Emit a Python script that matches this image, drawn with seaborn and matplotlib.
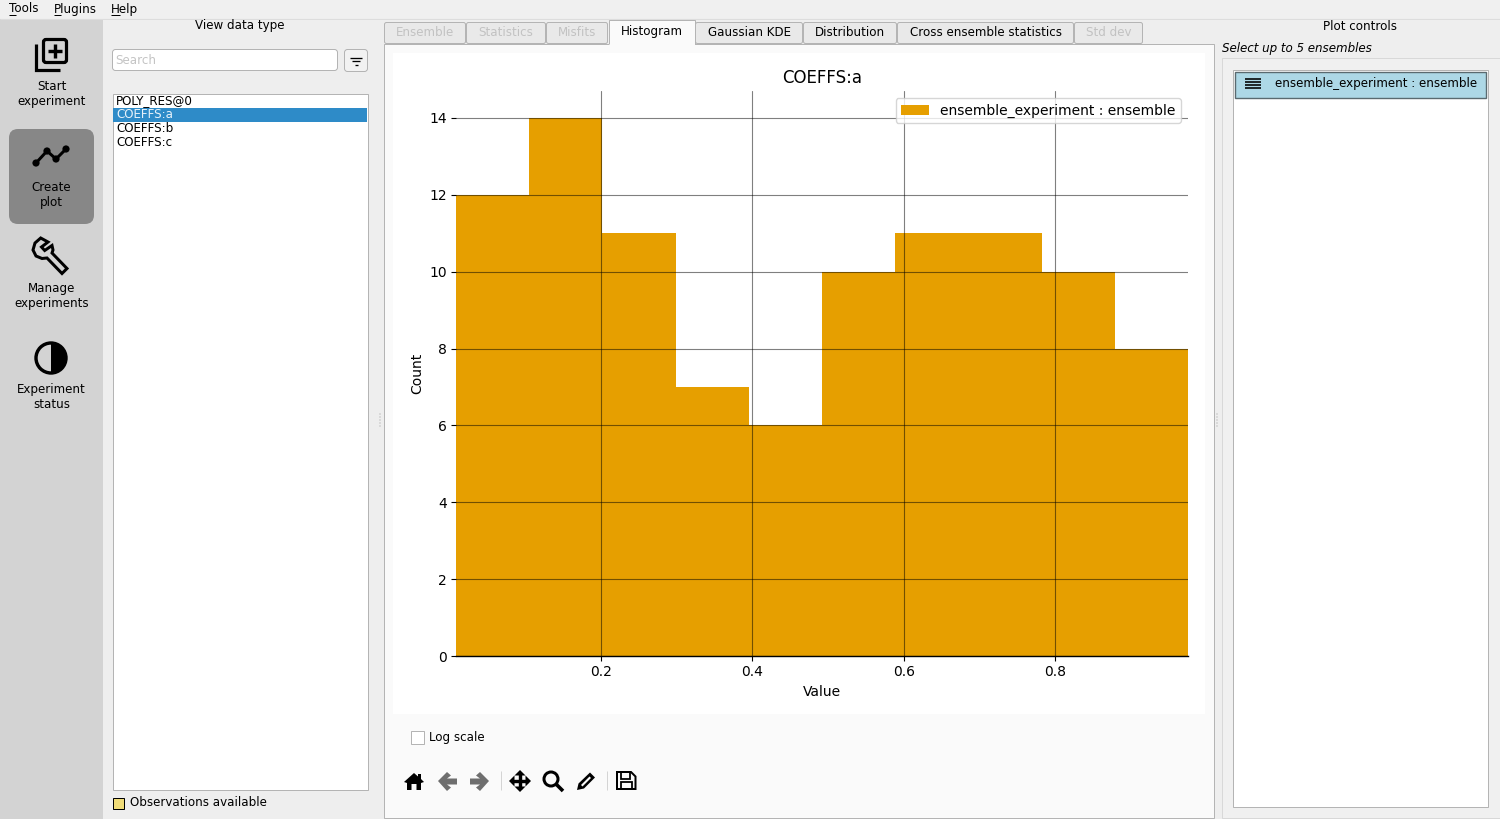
import matplotlib
matplotlib.use('Agg')
import matplotlib.pyplot as plt
import seaborn as sns
from matplotlib.patches import Rectangle, FancyBboxPatch, Circle, Wedge, Polygon

# histogram
bin_edges = [0.0084, 0.1051, 0.2019, 0.2986, 0.3953, 0.4921, 0.5888, 0.6855, 0.7822, 0.8790, 0.9757]
bin_centers = [0.0568, 0.1535, 0.2503, 0.3470, 0.4437, 0.5405, 0.6372, 0.7339, 0.8306, 0.9274]
counts = [12, 14, 11, 7, 6, 10, 11, 11, 10, 8]
x_ticks = [0.2, 0.4, 0.6, 0.8]
y_ticks = [0, 2, 4, 6, 8, 10, 12, 14]
ensemble_label = 'ensemble_experiment : ensemble'
bar_color = '#e69f00'

parameters = ['POLY_RES@0', 'COEFFS:a', 'COEFFS:b', 'COEFFS:c']
tabs = ['Ensemble', 'Statistics', 'Misfits', 'Histogram', 'Gaussian KDE', 'Distribution',
        'Cross ensemble statistics', 'Std dev']
tab_edges = [384, 466, 546, 608, 695, 803, 897, 1074, 1143]
disabled_tabs = ['Ensemble', 'Statistics', 'Misfits', 'Std dev']
menus = ['Tools', 'Plugins', 'Help']
menu_x = [9, 54, 111]
menu_underline = [(9, 16), (54, 61), (111, 120)]
side_labels = ['Start\nexperiment', 'Create\nplot', 'Manage\nexperiments', 'Experiment\nstatus']
side_label_y = [94, 195, 296, 397]

W, H = 1500, 819
UI_SIZE = 8.6
LIGHT = '#eeeeee'
BORDER = '#b4b4b4'
SIDE = '#d3d3d3'
GREY_ICON = '#6e6e6e'

sns.set_style('white', {'text.color': 'black', 'axes.labelcolor': 'black',
                        'xtick.color': 'black', 'ytick.color': 'black',
                        'axes.edgecolor': 'black', 'font.family': ['DejaVu Sans']})
plt.rcParams['font.family'] = ['DejaVu Sans']

fig = plt.figure(figsize=(W / 100, H / 100), dpi=100, facecolor=LIGHT)


def px(v):
    return v * 0.72


def rect(ui, x0, y0, x1, y1, fc, ec='none', lw=1.0, z=1):
    ui.add_patch(Rectangle((x0, y0), x1 - x0, y1 - y0, fc=fc, ec=ec, lw=px(lw), zorder=z))


def rrect(ui, x0, y0, x1, y1, r, fc, ec='none', lw=1.0, z=1):
    ui.add_patch(FancyBboxPatch((x0 + r, y0 + r), x1 - x0 - 2 * r, y1 - y0 - 2 * r,
                                boxstyle='round,pad=%f,rounding_size=%f' % (r, r),
                                fc=fc, ec=ec, lw=px(lw), zorder=z))


def line(ui, xs, ys, w, c='black', z=3, cap='butt'):
    ui.plot(xs, ys, color=c, lw=px(w), solid_capstyle=cap, solid_joinstyle='miter', zorder=z)


def poly(ui, pts, c='black', z=3, ec='none', lw=1.0):
    ui.add_patch(Polygon(pts, closed=True, fc=c, ec=ec, lw=px(lw), zorder=z))


def label(ui, x, y, s, ha='left', c='black', size=UI_SIZE, style='normal'):
    ui.text(x, y, s, ha=ha, va='center', color=c, fontsize=size, style=style, zorder=5,
            linespacing=1.14)


# window chrome drawn in pixel coordinates
ui = fig.add_axes([0, 0, 1, 1], zorder=0)
ui.set_xlim(0, W)
ui.set_ylim(H, 0)
ui.axis('off')

rect(ui, 0, 0, W, 18, '#f0f0f0')
line(ui, [0, W], [18.5, 18.5], 1, '#dddddd')
rect(ui, 0, 19, 103, H, SIDE)
for name, x, (u0, u1) in zip(menus, menu_x, menu_underline):
    label(ui, x, 9, name)
    line(ui, [u0, u1], [15, 15], 1)

# sidebar
rrect(ui, 9, 129, 94, 224, 9, '#878787')
for s, y in zip(side_labels, side_label_y):
    label(ui, 51.5, y, s, ha='center')

# start experiment icon
rrect(ui, 43.5, 39.5, 66.5, 62.5, 2.5, 'none', 'black', 3.2, z=3)
line(ui, [48, 62], [51, 51], 3.4)
line(ui, [55, 55], [44, 58], 3.4)
line(ui, [35.5, 35.5, 60], [44, 69.5, 69.5], 3.2)

# create plot icon
pts_x, pts_y = [36, 47, 56, 66], [163, 151, 159, 149]
line(ui, pts_x, pts_y, 3)
for a, b in zip(pts_x, pts_y):
    ui.add_patch(Circle((a, b), 3.6, fc='black', ec='none', zorder=3))

# wrench icon
poly(ui, [(40.7, 238), (48, 242), (41.5, 247), (44.7, 250.5), (52, 245.5), (53, 250), (52, 253),
          (67, 268.5), (62, 273.5), (47, 258), (42, 258.5), (36, 256), (33, 250), (35, 243)],
     SIDE, ec='black', lw=3)

# status icon
ui.add_patch(Circle((51, 358), 15, fc=SIDE, ec='black', lw=px(3.4), zorder=3))
ui.add_patch(Wedge((51, 358), 15, -90, 90, fc='black', ec='none', zorder=4))

# data type panel
label(ui, 240, 26, 'View data type', ha='center')
rrect(ui, 112.5, 49.5, 337.5, 70.5, 3, 'white', BORDER)
label(ui, 115, 60, 'Search', c='#c4c4c4')
rrect(ui, 344.5, 49.5, 367.5, 71.5, 3, '#f2f2f2', BORDER)
line(ui, [350, 362], [57.5, 57.5], 1.3)
line(ui, [352, 360], [61, 61], 1.3)
line(ui, [354.5, 357.5], [64.5, 64.5], 1.3)
rect(ui, 112.5, 93.5, 367.5, 789.5, 'white', BORDER)
rect(ui, 113, 108, 367, 122, '#2e8bc8', z=2)
for i, name in enumerate(parameters):
    label(ui, 116, 101 + 14 * i, name, c='#e8f2fa' if i == 1 else 'black')
rect(ui, 112.5, 797.5, 123.5, 808.5, '#f0dc78', 'black')
label(ui, 130, 803, 'Observations available')

# splitter dots
for sx in [380, 1217]:
    for sy in range(414, 429, 3):
        ui.add_patch(Circle((sx, sy), 0.7, fc='#b8b8b8', ec='none', zorder=2))

# tabs and plot panel
rect(ui, 383.5, 43.5, 1213.5, 817.5, '#fafafa', BORDER)
rect(ui, 393, 53, 1205, 714, 'white', z=2)
for name, x0, x1 in zip(tabs, tab_edges[:-1], tab_edges[1:]):
    if name == 'Histogram':
        rect(ui, x0 + 0.5, 19.5, x1 - 0.5, 44.5, '#fafafa', z=2)
        line(ui, [x0 + 0.5, x0 + 0.5, x1 - 0.5, x1 - 0.5], [44, 19.5, 19.5, 44], 1, BORDER, z=2)
        label(ui, (x0 + x1) / 2, 32, name, ha='center')
    else:
        rrect(ui, x0 + 0.5, 22.5, x1 - 0.5, 43.5, 2, '#e9e9e9', BORDER, z=1)
        c = '#c2c2c2' if name in disabled_tabs else 'black'
        label(ui, (x0 + x1) / 2, 33, name, ha='center', c=c)

# log scale and toolbar
rect(ui, 410.5, 730.5, 423.5, 743.5, 'white', BORDER, z=2)
label(ui, 429, 738, 'Log scale')
poly(ui, [(404, 782), (414, 773), (418, 776.5), (418, 774), (421, 774), (421, 779), (424, 782),
          (421, 783), (421, 790), (416.5, 790), (416.5, 784), (411.5, 784), (411.5, 790),
          (407, 790), (407, 783)])
poly(ui, [(438, 781), (447, 772), (451, 775.5), (447, 778.5), (457, 778.5), (457, 784.5),
          (447, 784.5), (451, 787.5), (447, 791)], GREY_ICON)
poly(ui, [(489, 781), (480, 772), (476, 775.5), (480, 778.5), (470, 778.5), (470, 784.5),
          (480, 784.5), (476, 787.5), (480, 791)], GREY_ICON)
line(ui, [500.5, 500.5], [771, 790], 1, '#d4d4d4')
line(ui, [606.5, 606.5], [771, 790], 1, '#d4d4d4')
line(ui, [512, 528], [781, 781], 3.4)
line(ui, [520, 520], [773, 789], 3.4)
poly(ui, [(509, 781), (514.5, 775.5), (514.5, 786.5)])
poly(ui, [(531, 781), (525.5, 775.5), (525.5, 786.5)])
poly(ui, [(520, 770), (514.5, 775.5), (525.5, 775.5)])
poly(ui, [(520, 792), (514.5, 786.5), (525.5, 786.5)])
ui.add_patch(Circle((551, 779), 7, fc='none', ec='black', lw=px(3), zorder=3))
line(ui, [556, 563], [784, 791], 3.6)
poly(ui, [(577, 790), (578.5, 783.5), (590, 772.5), (595, 777.5), (584, 788.5)])
poly(ui, [(581, 785), (589.5, 776.5), (591, 778), (582.5, 786.5)], '#fafafa', z=4)
poly(ui, [(617, 772), (631, 772), (635.5, 776.5), (635.5, 789), (617, 789)], 'none', ec='black', lw=2)
rect(ui, 620.5, 772, 630, 778.5, 'none', 'black', 1.8, z=3)
rect(ui, 620.5, 782, 632, 789, 'none', 'black', 1.8, z=3)

# plot controls
label(ui, 1360, 26, 'Plot controls', ha='center')
label(ui, 1222, 48.5, 'Select up to 5 ensembles', style='italic')
rect(ui, 1221.5, 57.5, 1499.5, 817.5, '#f0f0f0', '#d8d8d8')
rect(ui, 1232.5, 69.5, 1487.5, 806.5, 'white', BORDER)
rect(ui, 1234.5, 71.5, 1485.5, 97.5, '#add8e6', '#5a6a70', 1.4, z=2)
for hy in [79, 82, 85, 88]:
    line(ui, [1245, 1261], [hy, hy], 1.6)
label(ui, 1275, 83, ensemble_label)

# the chart itself, positioned to match the canvas
ax = fig.add_axes([456 / W, 1 - 656 / H, 732 / W, 565 / H], zorder=2)
ax.patch.set_alpha(0)
sns.histplot(x=bin_centers, weights=counts, bins=bin_edges, color=bar_color, alpha=1,
             edgecolor='none', linewidth=0, label=ensemble_label, ax=ax)
ax.set_xlim(bin_edges[0], bin_edges[-1])
ax.set_ylim(0, 14.7)
ax.set_xticks(x_ticks)
ax.set_yticks(y_ticks)
ax.set_axisbelow(False)
ax.grid(True, color='black', alpha=0.5, linewidth=0.8)
ax.tick_params(left=True, bottom=True, length=3.5, width=0.8, labelsize=10, pad=3)
ax.set_xlabel('Value', fontsize=10)
ax.set_ylabel('Count', fontsize=10)
ax.set_title('COEFFS:a', fontsize=12)
ax.legend(loc='upper right', fontsize=10)
sns.despine(ax=ax, left=True)
ax.spines['bottom'].set_linewidth(1.0)

fig.savefig('out.png', dpi=100, facecolor=fig.get_facecolor())
